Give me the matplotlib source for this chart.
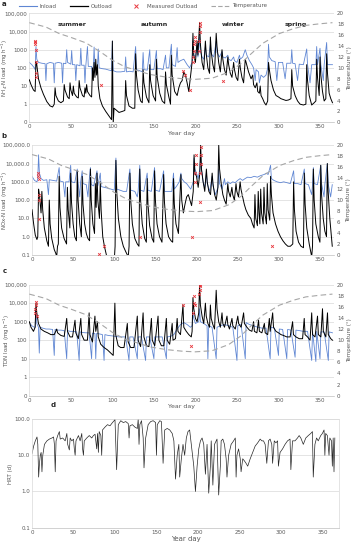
import matplotlib.pyplot as plt
from matplotlib.lines import Line2D

# ---- data (day, value) ----
temp = [(0, 18.3), (20, 17.5), (36, 16.3), (50, 15.6), (68, 14.6), (85, 13.0), (100, 11.4),
        (115, 10.2), (128, 9.6), (145, 8.8), (165, 8.3), (185, 8.0), (200, 7.9), (220, 8.1),
        (240, 9.2), (255, 10.8), (265, 12.3), (281, 14.5), (301, 16.3), (318, 17.2),
        (333, 17.8), (350, 18.1), (365, 18.3)]

nh4_in = [(0, 200), (3, 150), (6, 100), (7, 80), (8, 1500), (9, 300), (11, 200), (15, 180), (19, 170),
          (20, 20), (21, 170), (25, 200), (29, 180), (30, 15), (31, 180), (35, 200), (39, 180), (40, 15),
          (41, 180), (44, 170), (45, 1000), (46, 200), (50, 160), (51, 900), (52, 150), (55, 150), (56, 20),
          (57, 150), (61, 130), (62, 1200), (63, 140), (66, 140), (67, 15), (68, 130), (70, 1500), (71, 120),
          (75, 120), (76, 30), (77, 110), (78, 1400), (79, 100), (82, 100), (83, 1100), (84, 100), (88, 90),
          (92, 85), (96, 75), (99, 70), (100, 3000), (101, 70), (105, 60), (110, 60), (115, 65), (116, 400),
          (117, 60), (121, 65), (125, 60), (128, 1500), (129, 80), (133, 70), (136, 60), (137, 700), (138, 80),
          (142, 75), (145, 1000), (146, 80), (150, 80), (153, 900), (154, 90), (158, 90), (161, 80), (164, 500),
          (165, 100), (168, 100), (171, 2000), (172, 150), (176, 120), (178, 1300), (179, 200), (182, 250),
          (186, 300), (190, 150), (193, 100), (196, 200), (197, 3000), (198, 500), (200, 400), (202, 2000),
          (203, 400), (205, 5000), (206, 800), (208, 400), (210, 300), (212, 1500), (213, 500), (216, 400),
          (218, 2000), (219, 600), (222, 400), (225, 3000), (226, 700), (229, 400), (232, 800), (233, 400),
          (236, 350), (239, 500), (240, 300), (243, 250), (246, 400), (247, 250), (250, 200), (253, 500),
          (254, 300), (257, 400), (260, 1000), (262, 500), (265, 250), (268, 150), (270, 100), (272, 20),
          (273, 80), (276, 60), (277, 15), (279, 40), (282, 30), (285, 40), (287, 100), (288, 2000), (289, 400),
          (292, 250), (296, 220), (298, 20), (300, 200), (305, 200), (308, 25), (310, 180), (315, 180),
          (316, 1000), (317, 180), (320, 170), (323, 20), (325, 160), (330, 150), (334, 1100), (335, 150),
          (338, 15), (340, 150), (345, 150), (346, 1500), (347, 150), (350, 1200), (351, 150), (354, 20),
          (355, 150), (358, 2500), (359, 150), (362, 150), (365, 150)]

nh4_out = [(0, 22), (2, 12), (5, 6), (7, 5), (8, 220), (9, 150), (11, 25), (14, 8), (17, 3.5), (21, 1.4),
           (25, 0.8), (28, 0.7), (30, 1.0), (31, 8), (32, 3), (35, 1.5), (38, 1.2), (41, 1.5), (42, 12), (43, 6),
           (46, 2.5), (48, 2.0), (49, 15), (50, 6), (52, 3), (53, 10), (54, 4), (57, 2.5), (59, 2.2), (60, 20),
           (61, 8), (64, 3), (66, 2.5), (67, 8), (68, 4), (69, 12), (70, 5), (73, 3), (75, 2.5), (76, 100),
           (77, 20), (78, 200), (79, 30), (80, 300), (81, 40), (82, 150), (83, 10), (85, 2), (88, 0.8),
           (92, 0.4), (96, 0.22), (99, 0.14), (100, 3000), (101, 0.09), (102, 0.6), (104, 0.5), (108, 0.35),
           (112, 0.4), (115, 0.45), (116, 20), (117, 3), (120, 0.8), (124, 0.6), (127, 0.6), (128, 600),
           (129, 40), (131, 6), (134, 1.5), (136, 1.2), (137, 80), (138, 15), (141, 2.5), (144, 1.2), (145, 150),
           (146, 20), (149, 3), (152, 1.5), (153, 300), (154, 30), (157, 4), (160, 1.5), (163, 1.1), (164, 60),
           (165, 12), (168, 2.5), (170, 1.0), (171, 500), (172, 40), (175, 5), (178, 3), (180, 8), (182, 15),
           (184, 20), (186, 60), (188, 40), (190, 15), (192, 5), (194, 30), (196, 200), (197, 8000), (198, 500),
           (200, 200), (202, 3000), (203, 500), (205, 30000), (206, 2000), (208, 200), (210, 80), (212, 3000),
           (213, 600), (215, 100), (217, 50), (218, 5000), (219, 800), (221, 150), (223, 60), (225, 8000),
           (226, 1500), (228, 200), (230, 60), (232, 1000), (233, 300), (235, 80), (237, 40), (239, 400),
           (240, 150), (242, 50), (244, 30), (246, 200), (247, 80), (249, 30), (251, 20), (253, 300), (254, 100),
           (256, 30), (258, 15), (260, 300), (261, 200), (264, 60), (267, 25), (269, 40), (270, 12), (272, 8),
           (274, 15), (275, 5), (277, 4), (278, 10), (279, 3), (281, 2), (283, 1.2), (285, 0.9), (287, 1.5),
           (288, 200), (289, 80), (291, 20), (294, 6), (297, 3), (300, 2.5), (303, 2), (306, 1.8), (309, 1.6),
           (312, 1.7), (315, 2), (316, 80), (317, 10), (320, 3), (323, 1.5), (326, 1.0), (330, 0.9), (333, 1.0),
           (334, 150), (335, 20), (337, 3), (340, 0.9), (343, 1.2), (345, 1.5), (346, 300), (347, 30), (349, 3),
           (350, 400), (351, 40), (353, 5), (355, 1.5), (357, 2), (358, 600), (359, 50), (361, 4), (363, 2),
           (365, 1.2)]

nh4_meas = [(7, 3000), (7, 2500), (7, 2000), (8, 1000), (8, 200), (8, 50), (8, 30), (86, 12), (185, 70),
            (187, 40), (193, 6), (197, 200), (197, 400), (198, 800), (198, 2000), (199, 3000), (199, 5000),
            (204, 800), (204, 3000), (205, 10000), (205, 20000), (205, 30000), (233, 20)]

nox_in = [(0, 2000), (3, 1200), (6, 1000), (7, 1500), (8, 30000), (9, 3000), (11, 1500), (14, 1200), (18, 1300),
          (20, 200), (21, 1300), (25, 1200), (30, 1100), (33, 6000), (34, 1100), (38, 1000), (40, 150), (41, 1000),
          (45, 1000), (47, 8000), (48, 1000), (52, 900), (55, 5000), (56, 900), (58, 150), (59, 900), (61, 4000),
          (62, 800), (66, 700), (68, 150), (69, 700), (71, 6000), (72, 700), (75, 600), (79, 4000), (80, 600),
          (83, 3000), (84, 550), (88, 500), (92, 450), (96, 400), (100, 350), (102, 20000), (103, 400), (107, 350),
          (111, 300), (115, 300), (119, 5000), (120, 350), (125, 300), (128, 150), (129, 300), (131, 8000),
          (132, 350), (136, 300), (140, 3000), (141, 350), (145, 300), (149, 6000), (150, 350), (155, 300),
          (160, 4000), (161, 300), (165, 300), (170, 300), (172, 3000), (173, 400), (176, 600), (179, 1000),
          (181, 3000), (182, 1500), (185, 1000), (188, 800), (190, 600), (193, 400), (196, 1000), (197, 20000),
          (198, 5000), (200, 3000), (202, 1500), (204, 5000), (205, 30000), (206, 5000), (208, 1000), (210, 500),
          (212, 3000), (213, 800), (216, 300), (219, 2000), (220, 600), (223, 200), (226, 500), (227, 5000),
          (228, 800), (231, 400), (234, 1500), (235, 700), (238, 1000), (241, 800), (244, 1000), (247, 900),
          (250, 1200), (253, 1500), (256, 1200), (259, 1500), (262, 1800), (266, 1700), (270, 2000), (274, 1800),
          (278, 2200), (282, 2500), (285, 3000), (287, 2500), (290, 8000), (291, 1500), (294, 1200), (298, 1000),
          (302, 900), (306, 1000), (310, 900), (314, 800), (318, 4000), (319, 800), (323, 800), (327, 700),
          (331, 5000), (332, 800), (336, 700), (340, 200), (341, 700), (342, 6000), (343, 800), (347, 700),
          (351, 8000), (352, 800), (355, 150), (356, 700), (359, 10000), (360, 800), (363, 150), (365, 700)]

nox_out = [(0, 30), (2, 5), (4, 1.2), (6, 0.7), (7, 1), (8, 400), (9, 200), (11, 20), (12, 300), (13, 30),
           (15, 3), (18, 0.6), (20, 0.3), (21, 100), (22, 5), (24, 0.8), (27, 0.2), (29, 0.12), (30, 0.08),
           (31, 0.3), (32, 0.4), (33, 2000), (34, 40), (36, 3), (39, 0.8), (41, 0.5), (42, 0.4), (43, 500),
           (44, 30), (46, 3), (47, 3000), (48, 80), (50, 5), (52, 1), (54, 0.6), (55, 4000), (56, 100), (58, 5),
           (60, 1), (61, 2000), (62, 60), (64, 5), (66, 1.5), (68, 0.8), (70, 0.6), (71, 5000), (72, 100), (74, 5),
           (76, 1.5), (77, 800), (78, 40), (79, 3000), (80, 100), (82, 10), (83, 1000), (84, 30), (86, 1),
           (88, 0.3), (90, 0.12), (92, 0.05), (100, 0.05), (101, 0.3), (102, 15000), (103, 300), (105, 10),
           (108, 1), (111, 0.3), (114, 0.15), (117, 0.08), (118, 0.3), (119, 3000), (120, 100), (122, 5),
           (125, 0.8), (128, 0.4), (130, 0.3), (131, 5000), (132, 100), (134, 5), (137, 0.8), (139, 0.5),
           (140, 1500), (141, 60), (143, 4), (146, 0.8), (148, 0.5), (149, 4000), (150, 100), (152, 5), (155, 1),
           (158, 0.5), (160, 2500), (161, 80), (163, 5), (166, 1), (169, 0.6), (171, 0.5), (172, 1500), (173, 60),
           (175, 5), (178, 1.5), (181, 2500), (182, 100), (184, 20), (186, 60), (188, 150), (190, 200), (192, 100),
           (194, 50), (196, 300), (197, 30000), (198, 3000), (200, 2000), (202, 500), (204, 3000), (205, 100000),
           (206, 5000), (208, 1000), (210, 300), (212, 5000), (213, 1000), (215, 300), (217, 200), (219, 3000),
           (220, 800), (222, 200), (224, 100), (226, 500), (227, 100000), (228, 5000), (230, 800), (232, 200),
           (234, 100), (236, 60), (238, 800), (239, 300), (241, 150), (243, 500), (244, 200), (246, 100),
           (248, 800), (249, 300), (251, 150), (253, 1000), (254, 400), (256, 150), (258, 60), (260, 30),
           (263, 15), (266, 10), (268, 5), (270, 3), (271, 200), (272, 10), (274, 4), (275, 300), (276, 20),
           (277, 5), (278, 400), (279, 20), (281, 5), (282, 500), (283, 20), (285, 5), (286, 800), (287, 30),
           (289, 8), (290, 2000), (291, 200), (293, 20), (296, 5), (299, 2), (302, 1), (305, 0.6), (308, 0.4),
           (311, 0.3), (314, 0.3), (317, 0.4), (318, 1000), (319, 30), (321, 2), (324, 0.5), (327, 0.3),
           (330, 0.25), (331, 3000), (332, 60), (334, 3), (337, 0.4), (340, 0.08), (341, 0.3), (342, 5000),
           (343, 100), (345, 5), (348, 1), (350, 0.5), (351, 8000), (352, 200), (354, 10), (356, 2), (358, 1),
           (359, 10000), (360, 300), (362, 10), (364, 1), (365, 0.3)]

nox_meas = [(7, 3000), (7, 2000), (8, 1500), (8, 200), (8, 100), (8, 9), (81, 0.12), (87, 0.3), (131, 1.0),
            (194, 1.0), (198, 1000), (198, 3000), (199, 10000), (199, 30000), (204, 80), (204, 3000),
            (205, 10000), (205, 30000), (205, 80000), (292, 0.3)]

tdn_in = [(0, 900), (3, 600), (6, 500), (7, 500), (8, 5000), (9, 800), (11, 500), (12, 20), (13, 500), (16, 450),
          (20, 400), (24, 400), (28, 380), (30, 15), (31, 380), (34, 350), (38, 350), (42, 330), (45, 10), (46, 330),
          (49, 300), (53, 300), (57, 280), (60, 8), (61, 280), (64, 260), (68, 250), (72, 250), (75, 10), (76, 240),
          (79, 230), (80, 10), (81, 230), (84, 220), (88, 200), (90, 8), (91, 200), (95, 180), (100, 170), (104, 160),
          (108, 150), (112, 150), (116, 150), (120, 8), (121, 150), (125, 150), (130, 10), (131, 150), (135, 150),
          (140, 8), (141, 150), (145, 150), (150, 10), (151, 150), (155, 150), (160, 150), (165, 10), (166, 150),
          (170, 160), (174, 200), (178, 400), (182, 700), (186, 900), (190, 700), (194, 500), (196, 600),
          (197, 3000), (198, 1500), (200, 800), (204, 1000), (205, 5000), (206, 1000), (210, 800), (214, 600),
          (215, 10), (216, 600), (220, 500), (225, 10), (226, 500), (230, 600), (235, 700), (240, 600), (245, 500),
          (250, 8), (251, 600), (255, 700), (260, 10), (261, 900), (265, 700), (270, 600), (275, 500), (280, 450),
          (285, 450), (290, 10), (291, 500), (295, 450), (300, 15), (301, 400), (305, 380), (310, 10), (311, 380),
          (315, 350), (320, 12), (321, 350), (325, 330), (330, 300), (335, 300), (340, 8), (341, 300), (345, 7),
          (346, 300), (350, 10), (351, 280), (355, 280), (360, 8), (361, 280), (365, 250)]

tdn_out = [(0, 1000), (2, 500), (5, 300), (7, 500), (8, 10000), (9, 3000), (11, 800), (14, 400), (18, 300),
           (22, 250), (26, 200), (30, 200), (33, 400), (34, 250), (38, 180), (42, 160), (45, 1500), (46, 300),
           (49, 150), (52, 150), (55, 1200), (56, 250), (59, 120), (62, 1500), (63, 200), (66, 100), (70, 100),
           (72, 3000), (73, 200), (76, 80), (79, 2000), (80, 300), (82, 1000), (83, 150), (86, 60), (90, 40),
           (94, 30), (98, 20), (101, 15), (103, 10000), (104, 200), (107, 50), (110, 40), (114, 40), (118, 800),
           (119, 80), (122, 40), (126, 40), (130, 2000), (131, 100), (134, 45), (137, 3000), (138, 150), (141, 50),
           (144, 45), (147, 1500), (148, 100), (151, 50), (155, 2000), (156, 100), (159, 50), (162, 50), (165, 1500),
           (166, 100), (169, 60), (172, 800), (173, 100), (176, 120), (178, 1500), (179, 300), (182, 200),
           (185, 8000), (186, 500), (189, 300), (192, 200), (195, 150), (196, 300), (197, 20000), (198, 5000),
           (200, 1500), (202, 1000), (204, 3000), (205, 100000), (206, 8000), (208, 2000), (210, 800), (212, 10000),
           (213, 2000), (215, 800), (217, 500), (218, 8000), (219, 1500), (221, 700), (223, 400), (225, 50000),
           (226, 5000), (228, 1000), (230, 500), (232, 3000), (233, 800), (235, 500), (238, 2000), (239, 700),
           (241, 400), (244, 1500), (245, 600), (248, 400), (251, 2000), (252, 800), (255, 500), (258, 3000),
           (259, 800), (262, 500), (265, 350), (268, 300), (270, 1000), (271, 300), (274, 250), (276, 1200),
           (277, 300), (280, 250), (283, 800), (284, 250), (287, 200), (289, 1500), (290, 300), (293, 3000),
           (294, 500), (297, 300), (300, 250), (303, 200), (306, 180), (310, 150), (314, 150), (317, 1000),
           (318, 200), (321, 150), (325, 120), (329, 120), (331, 1500), (332, 200), (335, 150), (338, 100),
           (340, 3000), (341, 200), (344, 150), (347, 2000), (348, 200), (351, 150), (353, 5000), (354, 300),
           (357, 150), (359, 3000), (360, 200), (363, 120), (365, 100)]

tdn_meas = [(7, 3000), (7, 5000), (8, 8000), (8, 12000), (9, 2000), (185, 8000), (195, 50), (197, 3000),
            (198, 10000), (198, 25000), (199, 8000), (204, 30000), (205, 50000), (205, 80000), (205, 100000)]

hrt = [(0, 11), (2, 18), (4, 25), (6, 32), (7, 20), (8, 2.5), (9, 6), (10, 10), (11, 12), (12, 3.5), (13, 10),
       (15, 20), (18, 25), (21, 28), (24, 30), (26, 32), (27, 20), (28, 3.5), (29, 25), (31, 35), (33, 45),
       (34, 28), (37, 30), (40, 25), (42, 40), (43, 20), (45, 14), (46, 30), (48, 25), (50, 28), (51, 15),
       (52, 10), (53, 25), (56, 35), (58, 25), (60, 40), (61, 15), (62, 10), (63, 25), (66, 30), (69, 35),
       (72, 30), (74, 35), (76, 38), (78, 15), (79, 40), (80, 12), (81, 45), (83, 35), (84, 10), (85, 50),
       (88, 60), (91, 70), (94, 65), (97, 80), (99, 90), (100, 100), (101, 20), (102, 4), (104, 70), (107, 90),
       (110, 80), (113, 85), (116, 75), (117, 30), (118, 65), (121, 70), (124, 60), (127, 55), (128, 100),
       (129, 20), (130, 70), (132, 90), (134, 30), (135, 4.5), (137, 30), (140, 70), (143, 85), (146, 90),
       (149, 80), (150, 10), (151, 70), (154, 90), (156, 85), (158, 6), (160, 50), (163, 55), (166, 50),
       (169, 40), (171, 25), (173, 2.2), (175, 10), (177, 20), (178, 2.5), (180, 8), (182, 20), (184, 10),
       (186, 30), (188, 45), (190, 50), (192, 20), (195, 5), (197, 1.0), (199, 5), (201, 15), (203, 25),
       (205, 30), (207, 20), (209, 3), (211, 20), (213, 0.9), (215, 5), (216, 25), (218, 1.5), (220, 20),
       (222, 25), (223, 28), (225, 0.8), (227, 5), (228, 25), (230, 28), (232, 20), (234, 8), (235, 2.5),
       (237, 10), (240, 20), (243, 25), (245, 30), (246, 2.5), (247, 10), (249, 15), (251, 8), (252, 3.5),
       (254, 8), (256, 7), (258, 6), (260, 5), (263, 8), (266, 12), (269, 18), (272, 22), (275, 28), (277, 25),
       (279, 25), (281, 20), (283, 6), (285, 25), (287, 28), (289, 20), (290, 6), (292, 25), (294, 22),
       (296, 25), (297, 5), (299, 12), (302, 15), (305, 20), (308, 25), (311, 28), (312, 4), (314, 25),
       (317, 25), (320, 30), (322, 35), (324, 30), (327, 20), (330, 30), (333, 35), (336, 40), (338, 45),
       (339, 2.5), (341, 20), (343, 30), (345, 25), (348, 35), (350, 40), (352, 50), (353, 10), (354, 40),
       (356, 35), (358, 10), (359, 30), (361, 25), (362, 5), (363, 30), (364, 3.5), (365, 30)]

seasons = [('summer', 51), ('autumn', 150), ('winter', 245), ('spring', 321)]

load_ticks = [0.1, 1, 10, 100, 1000, 10000, 100000]
labels_int = ['0', '1', '10', '100', '1000', '10,000', '100,000']
labels_dec = ['0.1', '1.0', '10.0', '100.0', '1000.0', '10,000.0', '100,000.0']
hrt_ticks = [0.1, 1, 10, 100]
hrt_labels = ['0.1', '1.0', '10.0', '100.0']

C_IN = '#5f86d3'
C_OUT = 'black'
C_MEAS = '#e8393f'
C_TEMP = '#a6a6a6'
C_TXT = '#595959'
C_GRID = '#d9d9d9'
FS = 4


def xy(pairs):
    return [p[0] for p in pairs], [p[1] for p in pairs]


def style(ax, ticks, labels, xmax, box=False):
    ax.set_yscale('log')
    ax.set_ylim(ticks[0], ticks[-1])
    ax.set_yticks(ticks)
    ax.set_yticklabels(labels)
    ax.minorticks_off()
    ax.set_xlim(0, xmax)
    ax.set_xticks(range(0, 351, 50))
    ax.tick_params(length=0, labelsize=FS, colors=C_TXT, pad=1.5)
    ax.grid(axis='y', color=C_GRID, lw=0.5)
    ax.set_axisbelow(True)
    for s in ax.spines.values():
        s.set_color(C_GRID)
        s.set_linewidth(0.5)
    if not box:
        ax.spines['top'].set_visible(False)
        ax.spines['right'].set_visible(False)
    ax.spines['bottom'].set_color('#bfbfbf')


def load_panel(rect, inload, outload, meas, ylabel, labels, label_x, xlabel=True):
    ax = fig.add_axes(rect)
    ax.plot(*xy(inload), color=C_IN, lw=0.6, zorder=2)
    ax.plot(*xy(outload), color=C_OUT, lw=0.7, zorder=3)
    ax.plot(*xy(meas), ls='none', marker='x', ms=2, mew=0.6, color=C_MEAS, zorder=4)
    style(ax, load_ticks, labels, 367)
    ax.set_ylabel(ylabel, fontsize=FS, color=C_TXT)
    ax.yaxis.set_label_coords(label_x, 0.5)
    if xlabel:
        ax.set_xlabel('Year day', fontsize=FS + 0.5, color=C_TXT, labelpad=1)
    tx = ax.twinx()
    tx.plot(*xy(temp), color=C_TEMP, lw=0.8, ls=(0, (5, 3)), zorder=1)
    tx.set_ylim(0, 20)
    tx.set_yticks(range(0, 21, 2))
    tx.tick_params(length=0, labelsize=FS, colors=C_TXT, pad=2)
    for s in tx.spines.values():
        s.set_visible(False)
    tx.set_ylabel('Temperature (°)', fontsize=FS, color=C_TXT, labelpad=2)
    return ax


fig = plt.figure(figsize=(3.62, 5.50), dpi=100)

ax_a = load_panel([0.081, 0.7776, 0.842, 0.198], nh4_in, nh4_out, nh4_meas,
                  'NH$_4$-N load (mg h$^{-1}$)', labels_int, -0.063)
for name, day in seasons:
    ax_a.text(day, 0.9, name, transform=ax_a.get_xaxis_transform(), ha='center', va='center',
              fontsize=4.5, fontweight='bold', color='#262626', zorder=6)

load_panel([0.0884, 0.5364, 0.834, 0.1995], nox_in, nox_out, nox_meas,
           'NOx-N load (mg h$^{-1}$)', labels_dec, -0.072, xlabel=False)
load_panel([0.081, 0.2806, 0.842, 0.2018], tdn_in, tdn_out, tdn_meas,
           'TDN load (mg h$^{-1}$)', labels_int, -0.058)

ax_d = fig.add_axes([0.0884, 0.0405, 0.848, 0.1976])
ax_d.plot(*xy(hrt), color='#262626', lw=0.5)
style(ax_d, hrt_ticks, hrt_labels, 370, box=True)
ax_d.set_ylabel('HRT (d)', fontsize=FS, color=C_TXT)
ax_d.yaxis.set_label_coords(-0.062, 0.5)
ax_d.set_xlabel('Year day', fontsize=FS + 1, color=C_TXT, labelpad=1)

# legend
handles = [Line2D([], [], color=C_IN, lw=0.8),
           Line2D([], [], color=C_OUT, lw=0.9),
           Line2D([], [], ls='none', marker='x', ms=2.5, mew=0.7, color=C_MEAS),
           Line2D([], [], color=C_TEMP, lw=0.8, ls=(0, (4, 2)))]
fig.legend(handles, ['Inload', 'Outload', 'Measured Outload', 'Temperature'],
           loc='center', bbox_to_anchor=(0.395, 1 - 6 / 550), ncol=4, frameon=False,
           fontsize=FS, handlelength=3.2, columnspacing=2.5, handletextpad=0.5,
           labelcolor=C_TXT)

for letter, ypx, xpx in [('a', 4, 4), ('b', 136, 4), ('c', 271, 5), ('d', 405, 53)]:
    fig.text(xpx / 362, 1 - ypx / 550, letter, fontsize=5, fontweight='bold',
             ha='center', va='center', color='#262626')

fig.savefig('out.png', dpi=100)
